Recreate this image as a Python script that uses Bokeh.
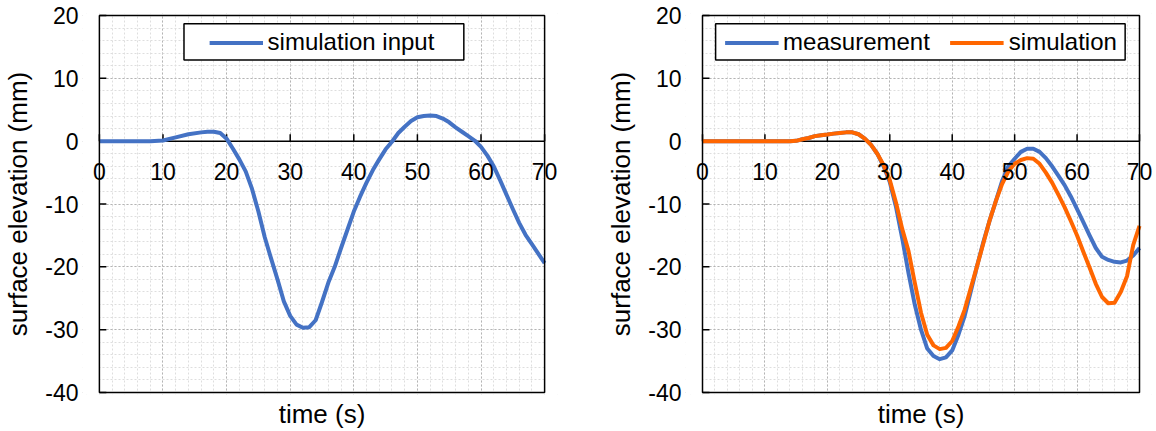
from bokeh.plotting import figure
from bokeh.layouts import row
from bokeh.core.properties import value
from bokeh.models import (Range1d, SingleIntervalTicker, FixedTicker, Legend, LegendItem,
                          LabelSet, BoxAnnotation, ColumnDataSource, NumeralTickFormatter)
from bokeh.embed import file_html
from bokeh.resources import INLINE

# ---------------- data ----------------
t_input = [0, 2, 4, 6, 8, 10, 12, 14, 16, 17, 18, 19, 20, 21, 22, 23, 24, 25, 26, 27,
           28, 29, 30, 31, 32, 33, 34, 35, 36, 37, 38, 39, 40, 41, 42, 43, 44, 45, 46,
           47, 48, 49, 50, 51, 52, 53, 54, 55, 56, 57, 58, 59, 60, 61, 62, 63, 64, 65,
           66, 67, 68, 69, 70]
sim_input = [0, 0, 0, 0, 0, 0.1, 0.6, 1.1, 1.4, 1.5, 1.5, 1.3, 0.4, -1.2, -2.9, -4.8,
             -7.6, -11.2, -15.3, -18.7, -22.0, -25.5, -27.8, -29.2, -29.7, -29.6, -28.5,
             -25.6, -22.5, -20.0, -17.0, -14.1, -11.2, -8.8, -6.6, -4.6, -2.9, -1.3, -0.1,
             1.3, 2.3, 3.2, 3.8, 4.0, 4.1, 4.0, 3.6, 3.0, 2.2, 1.5, 0.8, 0.1, -0.9, -2.3,
             -4.0, -6.2, -8.5, -10.8, -13.0, -14.9, -16.4, -17.9, -19.4]

t_cmp = [0, 2, 4, 6, 8, 10, 12, 14, 15, 16, 17, 18, 19, 20, 21, 22, 23, 24, 25, 26, 27,
         28, 29, 30, 31, 32, 33, 34, 35, 36, 37, 38, 39, 40, 41, 42, 43, 44, 45, 46, 47,
         48, 49, 50, 51, 52, 53, 54, 55, 56, 57, 58, 59, 60, 61, 62, 63, 64, 65, 66, 67,
         68, 69, 70]
measurement = [0, 0, 0, 0, 0, 0, 0, 0, 0.05, 0.3, 0.5, 0.8, 0.95, 1.05, 1.2, 1.3, 1.4,
               1.4, 1.1, 0.4, -0.6, -2.0, -4.0, -6.5, -10.5, -15.5, -21.0, -26.0, -30.0,
               -33.0, -34.2, -34.7, -34.4, -33.3, -30.8, -27.8, -23.8, -19.8, -16.0,
               -12.6, -9.5, -6.3, -4.0, -2.8, -1.7, -1.2, -1.2, -1.7, -2.7, -4.0, -5.5,
               -7.0, -8.8, -10.8, -12.9, -15.0, -17.0, -18.4, -18.9, -19.2, -19.3, -19.0,
               -18.2, -17.0]
simulation = [0, 0, 0, 0, 0, 0, 0, 0, 0.05, 0.3, 0.5, 0.8, 0.95, 1.05, 1.2, 1.3, 1.4,
              1.4, 1.1, 0.4, -0.6, -2.0, -3.8, -6.2, -9.8, -14.0, -17.5, -22.5, -27.3,
              -30.8, -32.5, -33.1, -32.9, -31.8, -29.5, -26.8, -23.3, -19.8, -16.2,
              -12.6, -9.5, -6.8, -4.8, -3.6, -3.0, -2.7, -2.8, -3.6, -5.0, -6.6, -8.5,
              -10.5, -12.7, -15.0, -17.6, -20.1, -22.7, -24.8, -25.8, -25.7, -24.0,
              -21.5, -16.5, -13.5]

x_tick_values = [0, 10, 20, 30, 40, 50, 60, 70]
x_tick_labels = ["0", "10", "20", "30", "40", "50", "60", "70"]
y_tick_values = [-40, -30, -20, -10, 0, 10, 20]

x_range = (0, 70)
y_range = (-40, 20)
tick_interval = 10

# ---------------- styling / layout ----------------
BLUE = "#4472C4"
ORANGE = "#FF6600"
FONT = "Liberation Sans"
FIG_H = 431
PLOT_TOP = 15          # px of the plot box top
PLOT_BOTTOM = 394      # px of the plot box bottom
EDGE_PAD_X = 17        # px of hidden frame beyond the box (room for edge tick labels)
EDGE_PAD_Y = 2
TICK_LEN = 7


def make_fig(width, box_left, box_right, legend_box):
    """box_left/box_right: pixel position of the plot box inside this figure."""
    sx = (box_right - box_left) / (x_range[1] - x_range[0])
    sy = (PLOT_BOTTOM - PLOT_TOP) / (y_range[1] - y_range[0])
    dx, dy = EDGE_PAD_X / sx, EDGE_PAD_Y / sy
    p = figure(width=width, height=FIG_H, output_backend="svg", toolbar_location=None,
               x_range=Range1d(x_range[0] - dx, x_range[1] + dx),
               y_range=Range1d(y_range[0] - dy, y_range[1] + dy))
    p.min_border_left = box_left - EDGE_PAD_X
    p.min_border_right = width - box_right - EDGE_PAD_X
    p.min_border_top = PLOT_TOP - EDGE_PAD_Y
    p.min_border_bottom = FIG_H - PLOT_BOTTOM - EDGE_PAD_Y
    p.background_fill_color = "white"
    p.border_fill_color = "white"
    p.outline_line_color = None

    ya = p.yaxis[0]
    ya.ticker = SingleIntervalTicker(interval=tick_interval, num_minor_ticks=5)
    ya.formatter = NumeralTickFormatter(format="0")
    ya.axis_line_color = None
    ya.major_tick_line_color = None
    ya.minor_tick_line_color = None
    ya.major_tick_in = 0
    ya.major_tick_out = 0
    ya.minor_tick_in = 0
    ya.minor_tick_out = 0
    ya.major_label_text_font = FONT
    ya.major_label_text_font_size = "23px"
    ya.major_label_text_color = "black"
    ya.major_label_standoff = 21 - EDGE_PAD_X
    ya.axis_label = "surface elevation (mm)"
    ya.axis_label_text_font = FONT
    ya.axis_label_text_font_size = "26px"
    ya.axis_label_text_font_style = "normal"
    ya.axis_label_text_color = "black"
    ya.axis_label_standoff = 9

    xa = p.xaxis[0]
    xa.ticker = FixedTicker(ticks=[])
    xa.axis_line_color = None
    xa.major_tick_line_color = None
    xa.minor_tick_line_color = None
    xa.major_label_standoff = 0
    xa.axis_label = "time (s)"
    xa.axis_label_text_font = FONT
    xa.axis_label_text_font_size = "26px"
    xa.axis_label_text_font_style = "normal"
    xa.axis_label_text_color = "black"
    xa.axis_label_standoff = 6 - EDGE_PAD_Y

    p.xgrid[0].ticker = SingleIntervalTicker(interval=tick_interval, num_minor_ticks=5)
    for g in (p.xgrid[0], p.ygrid[0]):
        g.grid_line_color = "#B4B4B4"
        g.grid_line_dash = "2 2"
        g.grid_line_width = 1
        g.minor_grid_line_color = "#DEDEDE"
        g.minor_grid_line_dash = "2 2"
        g.minor_grid_line_width = 1

    # white covers hide grid lines outside the plot box
    for kw in (dict(right=x_range[0]), dict(left=x_range[1]),
               dict(top=y_range[0]), dict(bottom=y_range[1])):
        p.add_layout(BoxAnnotation(fill_color="white", fill_alpha=1, line_alpha=0,
                                   level="underlay", **kw))

    # plot box border
    p.add_layout(BoxAnnotation(left=x_range[0], right=x_range[1], bottom=y_range[0],
                               top=y_range[1], fill_alpha=0, line_color="black",
                               line_width=1.5, line_alpha=1, level="guide"))

    # zero line with upward ticks, labels below it; y ticks inward from left edge
    p.segment(x0=[x_range[0]], y0=[0], x1=[x_range[1]], y1=[0],
              line_color="black", line_width=1.5)
    n = len(x_tick_values)
    p.segment(x0=x_tick_values, y0=[0] * n, x1=x_tick_values, y1=[TICK_LEN / sy] * n,
              line_color="black", line_width=1.5)
    m = len(y_tick_values)
    p.segment(x0=[x_range[0]] * m, y0=y_tick_values, x1=[x_range[0] + TICK_LEN / sx] * m,
              y1=y_tick_values, line_color="black", line_width=1.5)
    src = ColumnDataSource(dict(x=x_tick_values, y=[0] * n, text=x_tick_labels))
    p.add_layout(LabelSet(x="x", y="y", text="text", source=src, y_offset=-38.5,
                          text_align="center", text_baseline="alphabetic",
                          text_font=value(FONT), text_font_size=value("23px"),
                          text_color="black"))

    l, r, b, t = legend_box
    p.add_layout(BoxAnnotation(left=l, right=r, bottom=b, top=t, fill_color="white",
                               fill_alpha=1, line_color="black", line_width=1.5,
                               line_alpha=1))
    return p


def style_legend(items):
    return Legend(items=items, location="top_center", orientation="horizontal",
                  margin=8 + EDGE_PAD_Y, padding=5, glyph_width=54, glyph_height=27,
                  label_height=27, label_standoff=5, spacing=20,
                  border_line_alpha=0, background_fill_alpha=0,
                  label_text_font=FONT, label_text_font_size="24px",
                  label_text_color="black")


# left panel
p1 = make_fig(568, 96, 544, (13.3, 57.3, 12.9, 18.7))
r1 = p1.line(t_input, sim_input, line_color=BLUE, line_width=4, line_join="round")
p1.add_layout(style_legend([LegendItem(label="simulation input", renderers=[r1])]))

# right panel
p2 = make_fig(588, 134, 571, (2.1, 67.7, 12.9, 18.7))
r2 = p2.line(t_cmp, measurement, line_color=BLUE, line_width=4, line_join="round")
r3 = p2.line(t_cmp, simulation, line_color=ORANGE, line_width=4, line_join="round")
p2.add_layout(style_legend([LegendItem(label="measurement", renderers=[r2]),
                            LegendItem(label="simulation", renderers=[r3])]))

layout = row(p1, p2)
open("out.html", "w").write(file_html(layout, INLINE))
